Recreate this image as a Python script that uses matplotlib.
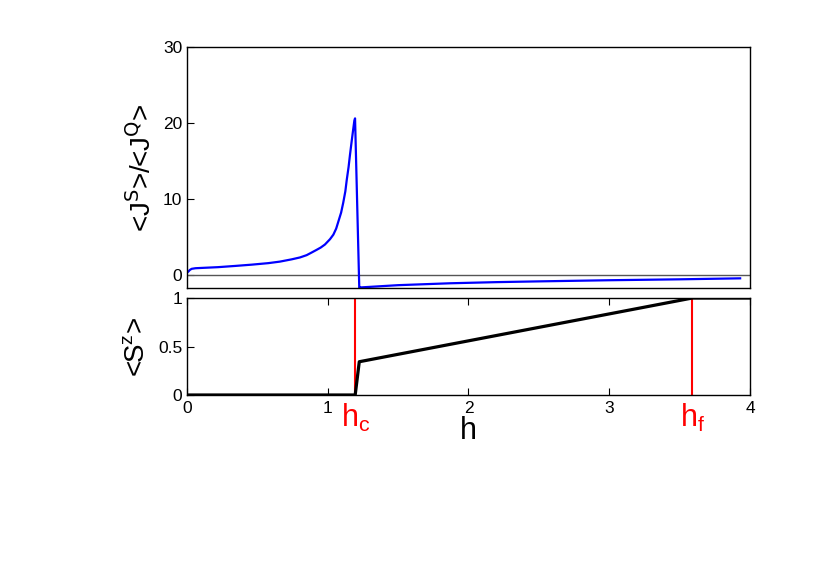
import matplotlib
matplotlib.use('Agg')
import matplotlib.pyplot as plt

plt.rcParams['font.family'] = ['Liberation Sans', 'DejaVu Sans']
plt.rcParams['mathtext.fontset'] = 'custom'
plt.rcParams['mathtext.rm'] = 'Liberation Sans'
plt.rcParams['mathtext.it'] = 'Liberation Sans'
plt.rcParams['mathtext.default'] = 'regular'

# ratio <J^S>/<J^Q> vs field h
h_ratio = [0.0, 0.009, 0.02, 0.033, 0.06, 0.104, 0.22, 0.341, 0.46, 0.578, 0.66,
           0.744, 0.803, 0.85, 0.886, 0.921, 0.95, 0.98, 1.016, 1.04, 1.06, 1.075,
           1.095, 1.11, 1.125, 1.135, 1.148, 1.158, 1.168, 1.177, 1.189, 1.194,
           1.224, 1.23, 1.5, 1.87, 2.2, 2.5, 3.0, 3.5, 3.93]
ratio = [0.3, 0.43, 0.65, 0.8, 0.88, 0.92, 1.02, 1.18, 1.35, 1.55, 1.75,
         2.05, 2.3, 2.6, 2.95, 3.3, 3.6, 4.0, 4.7, 5.3, 6.1, 7.0,
         8.2, 9.5, 11.0, 12.5, 14.2, 15.8, 17.3, 18.6, 20.3, 20.6,
         -1.72, -1.65, -1.35, -1.1, -0.95, -0.85, -0.7, -0.58, -0.45]

# magnetisation <S^z> vs h
h_sz = [0.0, 1.195, 1.224, 3.59, 4.0]
sz = [0.0, 0.0, 0.343, 1.0, 1.0]

h_c = 1.195
h_f = 3.59

fig = plt.figure(figsize=(8.3, 5.87), dpi=100)
ax1 = fig.add_axes([0.2253, 0.5094, 0.6783, 0.4106])
ax2 = fig.add_axes([0.2253, 0.3271, 0.6783, 0.1652])

ax1.axhline(0, color='#555555', lw=1.0)
ax1.plot(h_ratio, ratio, color='#0000ff', lw=1.6, solid_joinstyle='round')
ax1.set_xlim(0, 4)
ax1.set_ylim(-1.72, 30)
ax1.set_yticks([0, 10, 20, 30])
ax1.set_xticks([])
ax1.tick_params(axis='y', direction='in', length=5, labelsize=12.5, left=True, right=False)
ax1.set_ylabel('<J$^{\\mathsf{S}}$>/<J$^{\\mathsf{Q}}$>', fontsize=20, labelpad=4)

ax2.plot([h_c, h_c], [0, 1], color='#ff0000', lw=1.5)
ax2.plot([h_f, h_f], [0, 1], color='#ff0000', lw=1.5)
ax2.plot(h_sz, sz, color='black', lw=2.3)
ax2.set_xlim(0, 4)
ax2.set_ylim(0, 1)
ax2.set_yticks([0, 0.5, 1])
ax2.set_yticklabels(['0', '0.5', '1'])
ax2.set_xticks([0, 1, 2, 3, 4])
ax2.tick_params(axis='both', direction='in', length=5, labelsize=12.5)
ax2.tick_params(axis='x', top=True, pad=4)
ax2.set_ylabel('<S$^z$>', fontsize=20, labelpad=6)
ax2.set_xlabel('h', fontsize=22, labelpad=0)

ax2.text(h_c, -0.07, 'h$_c$', color='#ff0000', fontsize=22, ha='center', va='top',
         transform=ax2.get_xaxis_transform())
ax2.text(h_f, -0.07, 'h$_f$', color='#ff0000', fontsize=22, ha='center', va='top',
         transform=ax2.get_xaxis_transform())

for ax in (ax1, ax2):
    for s in ax.spines.values():
        s.set_linewidth(1.0)

fig.savefig('out.png', dpi=100)
